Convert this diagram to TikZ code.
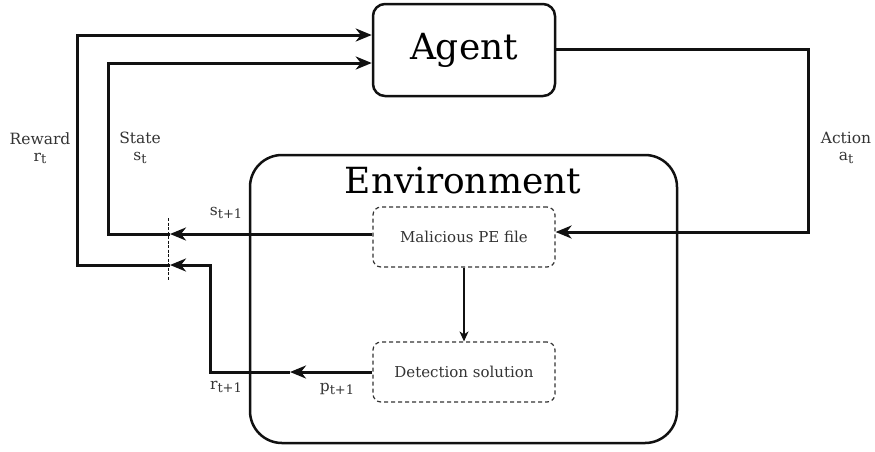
\documentclass[tikz,border=0pt]{standalone}
\usepackage{fontspec}
\setmainfont{DejaVu Serif}
\usetikzlibrary{arrows.meta,positioning}
\definecolor{ink}{HTML}{111111}
\definecolor{txt}{HTML}{333333}
\newcommand{\lsub}[1]{\raisebox{-2.5pt}{\fontsize{13}{13}\selectfont #1}}

\begin{document}
\begin{tikzpicture}[x=1pt,y=-1pt, every node/.style={align=center,inner sep=0pt},
  big/.style={draw=ink,line width=2.5pt,rounded corners=12pt,font=\fontsize{36}{40}\selectfont},
  env/.style={draw=ink,line width=2.5pt,rounded corners=32pt},
  db/.style={draw=txt,line width=1.2pt,dashed,dash pattern=on 4pt off 3pt,rounded corners=8pt,minimum width=182pt,minimum height=60pt,font=\fontsize{15}{17}\selectfont,text=txt},
  lab/.style={font=\fontsize{15.5}{17}\selectfont,text=txt},
  ln/.style={draw=ink,line width=3pt},
  a/.style={ln,-{Stealth[length=16pt,width=13pt,inset=5pt]}},
  ta/.style={draw=ink,line width=1.4pt,-{Stealth[length=10pt,width=9pt,inset=3pt]}}]
\useasboundingbox (0,0) rectangle (875,451);
% boxes
\node[big,minimum width=182pt,minimum height=92pt] (agent) at (464,50) {Agent};
\draw[env] (250,155) rectangle (677,443);
\node[font=\fontsize{36}{40}\selectfont,anchor=base] (envt) at (463,193) {Environment};
\node[db] (mal) at (464,237) {Malicious PE file};
\node[db] (det) at (464,372) {Detection solution};
\draw[ta] (mal) -- (det);
% action
\coordinate (ar) at (808,49);
\draw[a] (agent.east |- ar) -| (808,232) -- (mal.east |- 0,232);
% state
\coordinate (sm) at (170,234);
\draw[a] (mal.west |- sm) -- (sm);
\draw[a] (sm) -- (108,234) |- (agent.west |- 0,63);
% reward
\coordinate (pm) at (290,372);
\coordinate (rm) at (170,265);
\draw[a] (det.west) -- (pm);
\draw[a] (pm) -| (210,265) -- (rm);
\draw[a] (rm) -- (77,265) |- (agent.west |- 0,35);
\draw[draw=ink,line width=0.8pt,dash pattern=on 3pt off 1.5pt] (168,218) coordinate (cut1) -- (168,281) coordinate (cut2);
% labels
\node[lab] (lr) at (40,148) {Reward\\r\lsub{t}};
\node[lab] (ls) at (140,148) {State\\s\lsub{t}};
\node[lab] (la) at (846,148) {Action\\a\lsub{t}};
\node[lab] (lst) at (226,213) {s\lsub{t+1}};
\node[lab] (lrt) at (226,387) {r\lsub{t+1}};
\node[lab] (lpt) at (337,389) {p\lsub{t+1}};
\end{tikzpicture}
\end{document}
